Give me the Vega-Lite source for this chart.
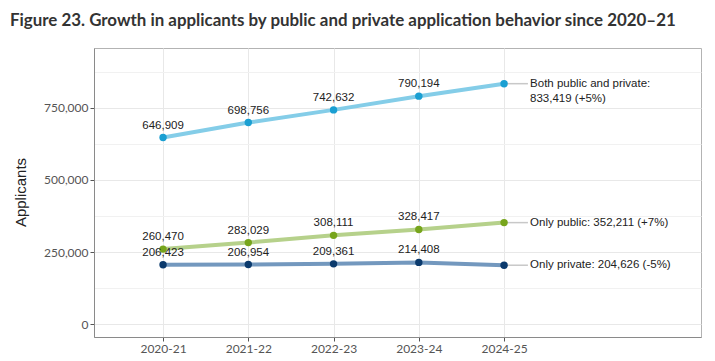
{
  "$schema": "https://vega.github.io/schema/vega-lite/v6.json",
  "width": 607,
  "height": 289,
  "autosize": {"type": "none"},
  "padding": {"left": 94, "top": 48, "right": 14, "bottom": 24},
  "background": "white",
  "title": {
    "text": "Figure 23. Growth in applicants by public and private application behavior since 2020–21",
    "anchor": "start",
    "frame": "group",
    "dx": -84,
    "dy": 20,
    "offset": 25,
    "baseline": "alphabetic",
    "font": "Lato",
    "fontSize": 16.9,
    "fontWeight": "bold",
    "color": "#333333"
  },
  "config": {
    "view": {"stroke": "#b3b3b3", "strokeWidth": 1},
    "axis": {
      "labelFont": "Lato",
      "labelFontSize": 12,
      "labelColor": "#555555",
      "tickColor": "#555555",
      "tickSize": 4,
      "domainColor": "#8a8a8a",
      "gridColor": "#e8e8e8",
      "gridWidth": 1
    }
  },
  "data": {
    "values": [
      {"series": "Both", "idx": 0, "year": "2020-21", "applicants": 646909, "endlabel": ""},
      {"series": "Both", "idx": 1, "year": "2021-22", "applicants": 698756, "endlabel": ""},
      {"series": "Both", "idx": 2, "year": "2022-23", "applicants": 742632, "endlabel": ""},
      {"series": "Both", "idx": 3, "year": "2023-24", "applicants": 790194, "endlabel": ""},
      {"series": "Both", "idx": 4, "year": "2024-25", "applicants": 833419, "endlabel": "Both public and private:\n833,419 (+5%)"},
      {"series": "Public", "idx": 0, "year": "2020-21", "applicants": 260470, "endlabel": ""},
      {"series": "Public", "idx": 1, "year": "2021-22", "applicants": 283029, "endlabel": ""},
      {"series": "Public", "idx": 2, "year": "2022-23", "applicants": 308111, "endlabel": ""},
      {"series": "Public", "idx": 3, "year": "2023-24", "applicants": 328417, "endlabel": ""},
      {"series": "Public", "idx": 4, "year": "2024-25", "applicants": 352211, "endlabel": "Only public: 352,211 (+7%)"},
      {"series": "Private", "idx": 0, "year": "2020-21", "applicants": 206423, "endlabel": ""},
      {"series": "Private", "idx": 1, "year": "2021-22", "applicants": 206954, "endlabel": ""},
      {"series": "Private", "idx": 2, "year": "2022-23", "applicants": 209361, "endlabel": ""},
      {"series": "Private", "idx": 3, "year": "2023-24", "applicants": 214408, "endlabel": ""},
      {"series": "Private", "idx": 4, "year": "2024-25", "applicants": 204626, "endlabel": "Only private: 204,626 (-5%)"}
    ]
  },
  "encoding": {
    "x": {
      "field": "idx",
      "type": "quantitative",
      "scale": {"domain": [-0.81, 6.31], "nice": false, "zero": false},
      "axis": {
        "values": [0, 1, 2, 3, 4],
        "labelExpr": "['2020-21','2021-22','2022-23','2023-24','2024-25'][datum.value]",
        "title": null,
        "labelPadding": 2,
        "grid": true
      }
    }
  },
  "layer": [
    {
      "mark": {"type": "line", "strokeWidth": 4, "strokeCap": "round"},
      "encoding": {
        "y": {
          "field": "applicants",
          "type": "quantitative",
          "scale": {"domain": [-44000, 957000], "nice": false, "zero": false},
          "axis": {
            "values": [0, 250000, 500000, 750000],
            "labelExpr": "format(datum.value, ',')",
            "title": "Applicants",
            "titleFont": "Liberation Sans",
            "titleFontSize": 15,
            "titleFontWeight": "normal",
            "titleColor": "#222222",
            "titleX": -74,
            "titleY": 144,
            "titleAngle": -90,
            "titleAlign": "center",
            "titleBaseline": "middle",
            "labelPadding": 2,
            "grid": true
          }
        },
        "color": {
          "field": "series",
          "type": "nominal",
          "scale": {"domain": ["Both", "Public", "Private"], "range": ["#84cde8", "#b6d18b", "#7398be"]},
          "legend": null
        }
      }
    },
    {
      "mark": {"type": "point", "opacity": 0},
      "encoding": {
        "y": {
          "field": "applicants",
          "type": "quantitative",
          "axis": {
            "orient": "right",
            "values": [125000, 375000, 625000, 875000],
            "grid": true,
            "gridColor": "#f1f1f1",
            "labels": false,
            "ticks": false,
            "domain": false,
            "title": null
          }
        }
      }
    },
    {
      "transform": [{"filter": "datum.idx == 4"}],
      "mark": {"type": "rule", "color": "#c8c8c8", "strokeWidth": 1.5},
      "encoding": {
        "x2": {"datum": 4.28},
        "y": {"field": "applicants", "type": "quantitative", "axis": null}
      }
    },
    {
      "mark": {"type": "circle", "size": 55, "opacity": 1},
      "encoding": {
        "y": {"field": "applicants", "type": "quantitative", "axis": null},
        "color": {
          "field": "series",
          "type": "nominal",
          "scale": {"domain": ["Both", "Public", "Private"], "range": ["#1a9fd2", "#77a51c", "#0b3a6d"]},
          "legend": null
        }
      }
    },
    {
      "transform": [{"filter": "datum.idx < 4"}],
      "mark": {"type": "text", "dy": -9, "baseline": "alphabetic", "font": "Liberation Sans", "fontSize": 11.5, "color": "#222222"},
      "encoding": {
        "y": {"field": "applicants", "type": "quantitative", "axis": null},
        "text": {"field": "applicants", "type": "quantitative", "format": ","}
      }
    },
    {
      "transform": [{"filter": "datum.idx == 4"}],
      "mark": {"type": "text", "dx": 26, "align": "left", "baseline": "middle", "lineBreak": "\n", "lineHeight": 15, "font": "Liberation Sans", "fontSize": 11.5, "color": "#222222"},
      "encoding": {
        "y": {"field": "applicants", "type": "quantitative", "axis": null},
        "text": {"field": "endlabel", "type": "nominal"}
      }
    }
  ],
  "resolve": {"scale": {"color": "independent"}, "axis": {"y": "independent"}}
}
